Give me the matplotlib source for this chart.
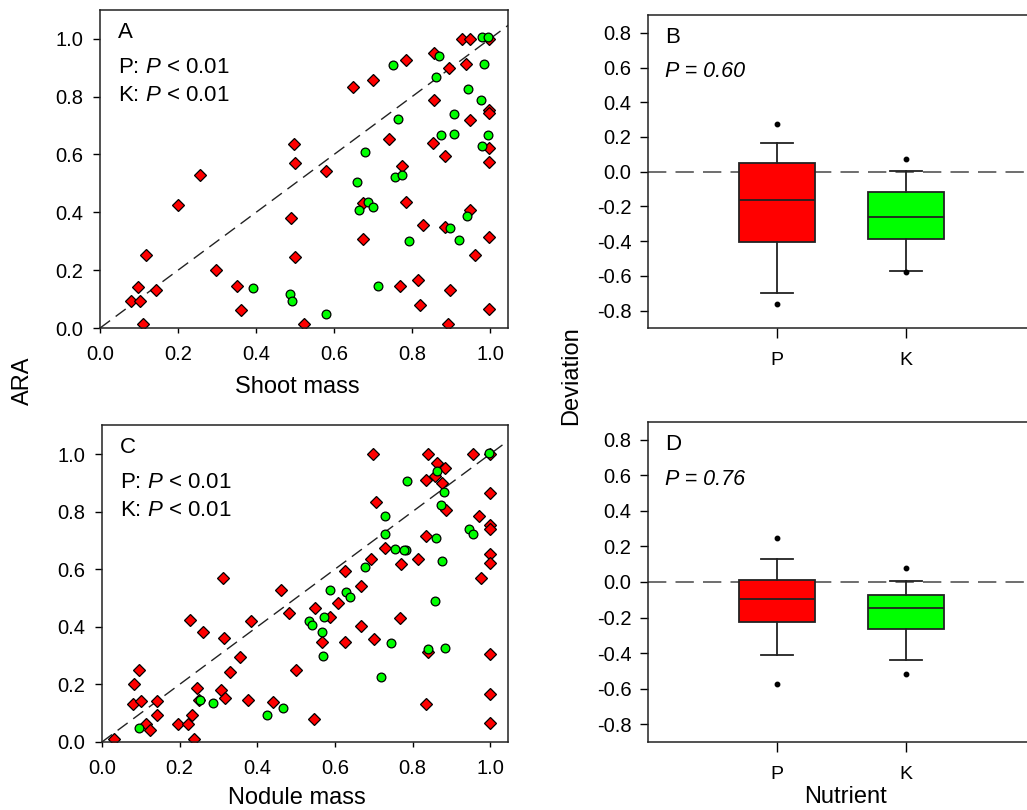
import matplotlib
matplotlib.use("Agg")
import matplotlib.pyplot as plt

plt.rcParams['font.family'] = ['Liberation Sans', 'DejaVu Sans']
plt.rcParams['mathtext.fontset'] = 'custom'
plt.rcParams['mathtext.rm'] = 'Liberation Sans'
plt.rcParams['mathtext.it'] = 'Liberation Sans:italic'

# Panel A: ARA vs shoot mass
a_p_x = [0.929, 0.949, 0.998, 0.857, 0.784, 0.699, 0.649, 0.895, 0.938, 0.855,
         0.949, 0.997, 0.997, 0.741, 0.853, 0.997, 0.883, 0.997, 0.498, 0.500,
         0.578, 0.774, 0.784, 0.256, 0.201, 0.675, 0.489, 0.949, 0.827, 0.883,
         0.673, 0.997, 0.962, 0.499, 0.118, 0.297, 0.350, 0.769, 0.815, 0.896,
         0.097, 0.144, 0.079, 0.103, 0.362, 0.819, 0.997, 0.109, 0.523, 0.891]
a_p_y = [1.000, 1.000, 1.000, 0.950, 0.925, 0.858, 0.832, 0.899, 0.912, 0.787,
         0.720, 0.755, 0.743, 0.653, 0.639, 0.622, 0.596, 0.573, 0.637, 0.571,
         0.543, 0.559, 0.435, 0.528, 0.424, 0.432, 0.380, 0.407, 0.357, 0.348,
         0.309, 0.315, 0.251, 0.244, 0.251, 0.202, 0.144, 0.147, 0.167, 0.132,
         0.143, 0.132, 0.092, 0.092, 0.061, 0.081, 0.067, 0.015, 0.015, 0.015]
a_k_x = [0.980, 0.994, 0.868, 0.750, 0.983, 0.861, 0.944, 0.976, 0.906, 0.763,
         0.908, 0.874, 0.994, 0.979, 0.678, 0.658, 0.755, 0.775, 0.664, 0.686,
         0.699, 0.940, 0.897, 0.921, 0.792, 0.712, 0.391, 0.487, 0.492, 0.578]
a_k_y = [1.005, 1.005, 0.941, 0.910, 0.912, 0.869, 0.826, 0.787, 0.740, 0.724,
         0.672, 0.666, 0.668, 0.630, 0.607, 0.505, 0.522, 0.530, 0.409, 0.434,
         0.420, 0.386, 0.346, 0.305, 0.302, 0.147, 0.138, 0.118, 0.094, 0.050]

# Panel C: ARA vs nodule mass
c_p_x = [0.698, 0.839, 0.955, 1.000, 0.863, 0.884, 0.858, 0.834, 0.876, 1.000,
         0.706, 0.887, 0.970, 1.000, 1.000, 0.834, 0.730, 0.770, 0.813, 1.000,
         1.000, 0.976, 0.694, 0.625, 0.667, 0.607, 0.313, 0.460, 0.481, 0.548,
         0.588, 0.768, 0.667, 0.385, 0.227, 0.260, 0.315, 0.568, 0.625, 0.700,
         0.839, 1.000, 0.356, 0.329, 0.501, 0.096, 0.083, 0.246, 0.306, 0.317,
         0.080, 0.100, 0.142, 0.377, 0.441, 0.250, 0.834, 1.000, 0.143, 0.233,
         0.114, 0.124, 0.196, 0.221, 0.545, 1.000, 0.238, 0.030]
c_p_y = [0.999, 0.999, 0.999, 0.999, 0.968, 0.950, 0.923, 0.911, 0.898, 0.864,
         0.833, 0.806, 0.785, 0.755, 0.740, 0.717, 0.674, 0.617, 0.637, 0.652,
         0.622, 0.571, 0.637, 0.593, 0.543, 0.483, 0.570, 0.527, 0.449, 0.467,
         0.433, 0.431, 0.404, 0.421, 0.423, 0.381, 0.360, 0.348, 0.348, 0.358,
         0.311, 0.307, 0.296, 0.242, 0.250, 0.250, 0.201, 0.189, 0.181, 0.152,
         0.133, 0.141, 0.143, 0.144, 0.138, 0.146, 0.131, 0.166, 0.095, 0.093,
         0.063, 0.040, 0.063, 0.063, 0.080, 0.066, 0.012, 0.012]
c_k_x = [0.997, 0.864, 0.785, 0.882, 0.874, 0.730, 0.729, 0.946, 0.955, 0.861,
         0.754, 0.784, 0.778, 0.876, 0.678, 0.588, 0.629, 0.638, 0.858, 0.534,
         0.542, 0.571, 0.567, 0.569, 0.744, 0.839, 0.884, 0.718, 0.253, 0.285,
         0.466, 0.425, 0.096]
c_k_y = [1.003, 0.940, 0.908, 0.867, 0.824, 0.785, 0.722, 0.739, 0.721, 0.707,
         0.671, 0.666, 0.668, 0.629, 0.608, 0.527, 0.521, 0.504, 0.489, 0.421,
         0.406, 0.433, 0.383, 0.299, 0.345, 0.323, 0.325, 0.227, 0.146, 0.136,
         0.118, 0.095, 0.048]

# Panels B and D: deviation box plots
nutrients = ['P', 'K']
b_med = [-0.161, -0.260]
b_q1 = [-0.406, -0.386]
b_q3 = [0.049, -0.118]
b_whislo = [-0.700, -0.569]
b_whishi = [0.163, 0.004]
b_fliers = [[0.276, -0.763], [0.076, -0.575]]

d_med = [-0.097, -0.145]
d_q1 = [-0.223, -0.267]
d_q3 = [0.010, -0.076]
d_whislo = [-0.413, -0.440]
d_whishi = [0.128, 0.004]
d_fliers = [[0.250, -0.573], [0.076, -0.516]]

box_colors = ['#ff0000', '#00ff00']

fig = plt.figure(figsize=(10.27, 8.10), dpi=100)

ax_a = fig.add_axes([0.0974, 0.595, 0.397, 0.393])
ax_c = fig.add_axes([0.0993, 0.084, 0.395, 0.391])
ax_b = fig.add_axes([0.631, 0.595, 0.377, 0.386])
ax_d = fig.add_axes([0.631, 0.084, 0.377, 0.395])


def scatter_panel(ax, px, py, kx, ky, letter):
    ax.plot([0, 1.2], [0, 1.2], color='#222222', lw=1.0, dashes=(9, 5), zorder=1)
    ax.plot(px, py, 'D', ms=6.3, mfc='#ff0000', mec='black', mew=0.9, ls='none', zorder=2)
    ax.plot(kx, ky, 'o', ms=6.3, mfc='#00ff00', mec='black', mew=0.9, ls='none', zorder=3)
    ax.set_xlim(0, 1.045)
    ax.set_ylim(0, 1.1)
    ax.set_xticks([0, 0.2, 0.4, 0.6, 0.8, 1.0])
    ax.set_yticks([0, 0.2, 0.4, 0.6, 0.8, 1.0])
    ax.set_xticklabels(['0.0', '0.2', '0.4', '0.6', '0.8', '1.0'])
    ax.set_yticklabels(['0.0', '0.2', '0.4', '0.6', '0.8', '1.0'])
    ax.tick_params(axis='x', direction='out', length=3.5, width=1, labelsize=14.5, pad=9)
    ax.tick_params(axis='y', direction='out', length=5, width=1, labelsize=14.5, pad=7)
    ax.text(0.045, 0.93, letter, transform=ax.transAxes, fontsize=16, va='center')
    ax.text(0.045, 0.82, 'P: $\\mathit{P}$ < 0.01', transform=ax.transAxes, fontsize=16, va='center')
    ax.text(0.045, 0.73, 'K: $\\mathit{P}$ < 0.01', transform=ax.transAxes, fontsize=16, va='center')


def box_panel(ax, med, q1, q3, lo, hi, fliers, letter, ptext):
    stats = []
    for i in range(len(nutrients)):
        stats.append(dict(med=med[i], q1=q1[i], q3=q3[i], whislo=lo[i],
                          whishi=hi[i], fliers=fliers[i], label=nutrients[i]))
    ax.axhline(0, color='#555555', lw=1.2, dashes=(11, 5.5), zorder=1)
    bp = ax.bxp(stats, positions=[1, 2], widths=0.59, patch_artist=True,
                showfliers=True,
                boxprops=dict(lw=1.3, edgecolor='#222222'),
                medianprops=dict(color='#222222', lw=1.3),
                whiskerprops=dict(color='#222222', lw=1.3),
                capprops=dict(color='#222222', lw=1.3),
                flierprops=dict(marker='o', ms=3.2, mfc='black', mec='black'),
                capwidths=0.25)
    for patch, c in zip(bp['boxes'], box_colors):
        patch.set_facecolor(c)
        patch.set_zorder(2)
    ax.set_xlim(0, 3)
    ax.set_ylim(-0.9, 0.9)
    ax.set_yticks([0.8, 0.6, 0.4, 0.2, 0.0, -0.2, -0.4, -0.6, -0.8])
    ax.set_yticklabels(['0.8', '0.6', '0.4', '0.2', '0.0', '-0.2', '-0.4', '-0.6', '-0.8'])
    ax.tick_params(axis='y', direction='out', length=6, width=1, labelsize=14.5, pad=6)
    ax.tick_params(axis='x', direction='out', length=7, width=1, labelsize=14, pad=10)
    ax.text(0.044, 0.93, letter, transform=ax.transAxes, fontsize=16, va='center')
    ax.text(0.044, 0.82, ptext, transform=ax.transAxes, fontsize=15.5, va='center',
            style='italic')


scatter_panel(ax_a, a_p_x, a_p_y, a_k_x, a_k_y, 'A')
scatter_panel(ax_c, c_p_x, c_p_y, c_k_x, c_k_y, 'C')
box_panel(ax_b, b_med, b_q1, b_q3, b_whislo, b_whishi, b_fliers, 'B', 'P = 0.60')
box_panel(ax_d, d_med, d_q1, d_q3, d_whislo, d_whishi, d_fliers, 'D', 'P = 0.76')

for ax in [ax_a, ax_b, ax_c, ax_d]:
    for s in ax.spines.values():
        s.set_linewidth(1.1)
        s.set_color('#222222')

fig.text(297 / 1027, 1 - 387 / 810, 'Shoot mass', fontsize=17, ha='center', va='center')
fig.text(297 / 1027, 1 - 798 / 810, 'Nodule mass', fontsize=17, ha='center', va='center')
fig.text(845 / 1027, 1 - 797 / 810, 'Nutrient', fontsize=17, ha='center', va='center')
fig.text(23 / 1027, 1 - 381 / 810, 'ARA', fontsize=17, ha='center', va='center', rotation=90)
fig.text(571 / 1027, 1 - 376 / 810, 'Deviation', fontsize=17, ha='center', va='center', rotation=90)

fig.savefig('out.png', dpi=100)
